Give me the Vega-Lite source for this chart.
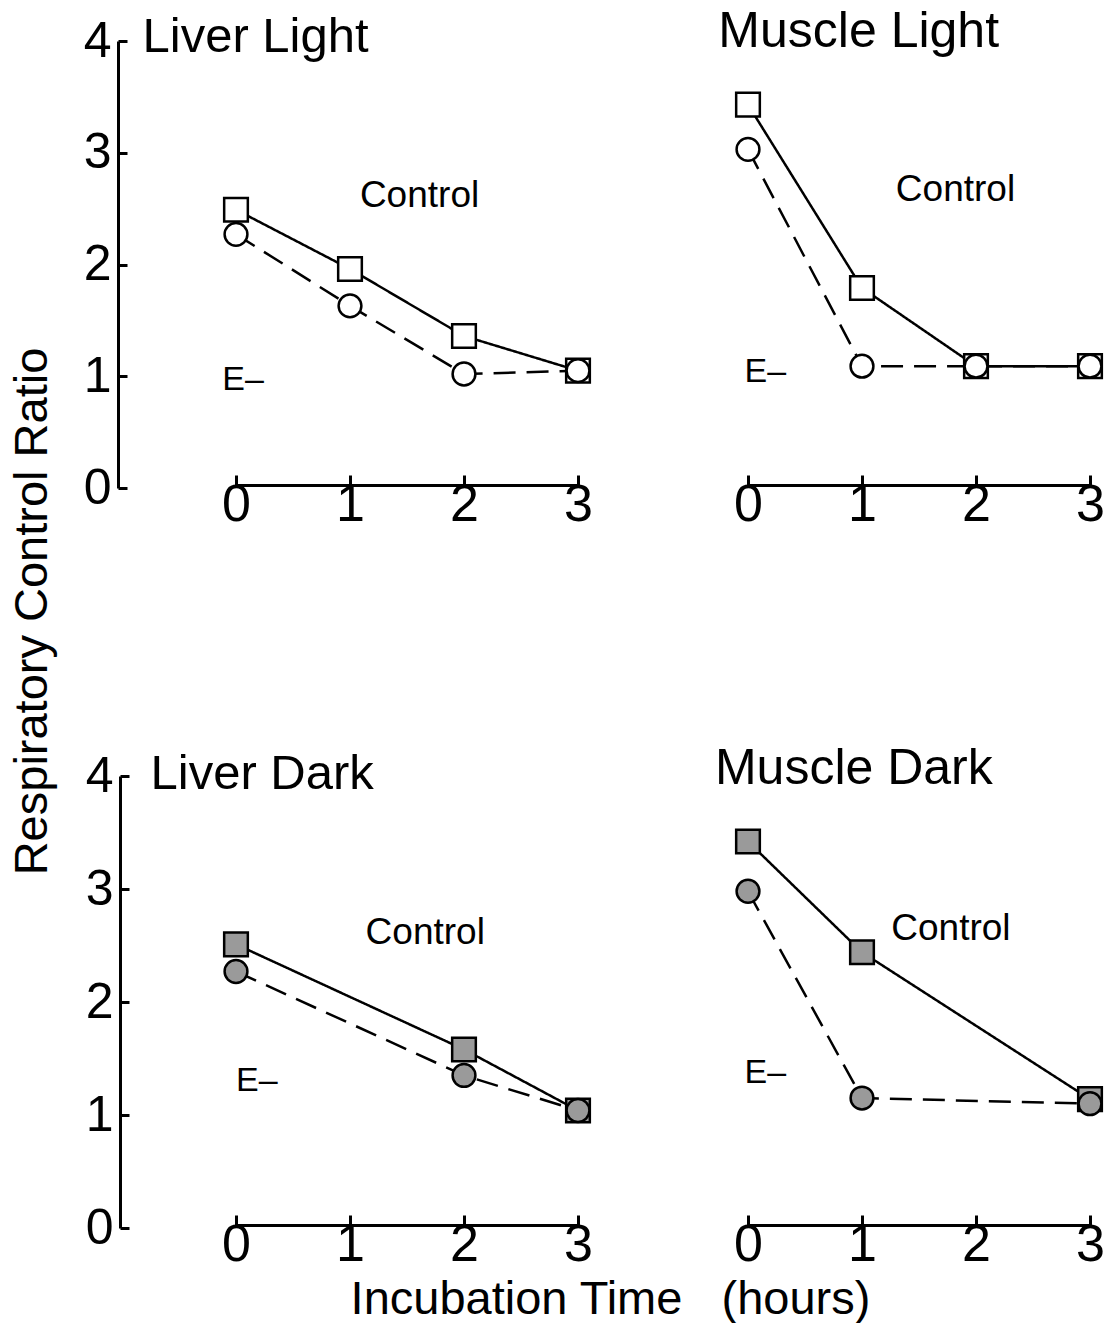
{
  "$schema": "https://vega.github.io/schema/vega-lite/v6.json",
  "padding": {"left": 8, "top": 7, "right": 5, "bottom": 5},
  "background": "white",
  "config": {
    "view": {"stroke": null},
    "font": "Liberation Sans",
    "axis": {"grid": false, "domainColor": "black", "tickColor": "black", "labelColor": "black", "titleColor": "black", "domainWidth": 3, "tickWidth": 3, "labelFont": "Liberation Sans", "titleFont": "Liberation Sans", "titleFontWeight": "normal", "labelFlush": false, "labelOverlap": false, "format": "d"}
  },
  "bounds": "flush",
  "columns": 2,
  "spacing": {"row": 288, "column": 170},
  "concat": [
    {
      "width": 342, "height": 447,
      "data": {"values": [
        {"series": "Control", "t": 0, "ratio": 2.49}, {"series": "Control", "t": 1, "ratio": 1.96}, {"series": "Control", "t": 2, "ratio": 1.36}, {"series": "Control", "t": 3, "ratio": 1.05},
        {"series": "E-", "t": 0, "ratio": 2.27}, {"series": "E-", "t": 1, "ratio": 1.63}, {"series": "E-", "t": 2, "ratio": 1.02}, {"series": "E-", "t": 3, "ratio": 1.05}
      ]},
      "layer": [
        {
          "mark": {"type": "line", "stroke": "black", "strokeWidth": 2.5},
          "encoding": {
            "x": {"field": "t", "type": "quantitative", "scale": {"domain": [0, 3], "nice": false, "zero": false}, "axis": {"values": [0, 1, 2, 3], "tickSize": -10, "labelFontSize": 52, "labelPadding": 4, "title": null, "offset": -3}},
            "y": {"field": "ratio", "type": "quantitative", "scale": {"domain": [0, 4], "nice": false}, "axis": {"values": [0, 1, 2, 3, 4], "offset": 118, "tickSize": -9, "labelFontSize": 50, "labelPadding": 16, "title": "Respiratory Control Ratio", "titleFontSize": 47, "titleAngle": 270, "titleX": -86, "titleY": 570, "titleAlign": "center", "titleBaseline": "middle", "titleAnchor": null}},
            "strokeDash": {"field": "series", "scale": {"domain": ["Control", "E-"], "range": [[1, 0], [22, 11]]}, "legend": null}
          }
        },
        {
          "mark": {"type": "point", "filled": true, "fill": "white", "stroke": "black", "strokeWidth": 2.5, "opacity": 1},
          "encoding": {
            "x": {"field": "t", "type": "quantitative"},
            "y": {"field": "ratio", "type": "quantitative"},
            "shape": {"field": "series", "scale": {"domain": ["Control", "E-"], "range": ["square", "circle"]}, "legend": null},
            "size": {"field": "series", "scale": {"domain": ["Control", "E-"], "range": [560, 520]}, "legend": null}
          }
        },
        {"data": {"values": [{}]}, "mark": {"type": "text", "fontSize": 49, "align": "left", "baseline": "middle"}, "encoding": {"x": {"datum": -0.82}, "y": {"datum": 4.04}, "text": {"value": "Liver Light"}}},
        {"data": {"values": [{}]}, "mark": {"type": "text", "fontSize": 37, "align": "center", "baseline": "middle"}, "encoding": {"x": {"datum": 1.61}, "y": {"datum": 2.61}, "text": {"value": "Control"}}},
        {"data": {"values": [{}]}, "mark": {"type": "text", "fontSize": 34, "align": "left", "baseline": "middle"}, "encoding": {"x": {"datum": -0.12}, "y": {"datum": 0.97}, "text": {"value": "E–"}}}
      ]
    },
    {
      "width": 342, "height": 447,
      "data": {"values": [
        {"series": "Control", "t": 0, "ratio": 3.43}, {"series": "Control", "t": 1, "ratio": 1.79}, {"series": "Control", "t": 2, "ratio": 1.09}, {"series": "Control", "t": 3, "ratio": 1.09},
        {"series": "E-", "t": 0, "ratio": 3.03}, {"series": "E-", "t": 1, "ratio": 1.09}, {"series": "E-", "t": 2, "ratio": 1.09}, {"series": "E-", "t": 3, "ratio": 1.09}
      ]},
      "layer": [
        {
          "mark": {"type": "line", "stroke": "black", "strokeWidth": 2.5},
          "encoding": {
            "x": {"field": "t", "type": "quantitative", "scale": {"domain": [0, 3], "nice": false, "zero": false}, "axis": {"values": [0, 1, 2, 3], "tickSize": -10, "labelFontSize": 52, "labelPadding": 4, "title": null, "offset": -3}},
            "y": {"field": "ratio", "type": "quantitative", "scale": {"domain": [0, 4], "nice": false}, "axis": null},
            "strokeDash": {"field": "series", "scale": {"domain": ["Control", "E-"], "range": [[1, 0], [22, 11]]}, "legend": null}
          }
        },
        {
          "mark": {"type": "point", "filled": true, "fill": "white", "stroke": "black", "strokeWidth": 2.5, "opacity": 1},
          "encoding": {
            "x": {"field": "t", "type": "quantitative"},
            "y": {"field": "ratio", "type": "quantitative"},
            "shape": {"field": "series", "scale": {"domain": ["Control", "E-"], "range": ["square", "circle"]}, "legend": null},
            "size": {"field": "series", "scale": {"domain": ["Control", "E-"], "range": [560, 520]}, "legend": null}
          }
        },
        {"data": {"values": [{}]}, "mark": {"type": "text", "fontSize": 50, "align": "left", "baseline": "middle"}, "encoding": {"x": {"datum": -0.26}, "y": {"datum": 4.08}, "text": {"value": "Muscle Light"}}},
        {"data": {"values": [{}]}, "mark": {"type": "text", "fontSize": 37, "align": "center", "baseline": "middle"}, "encoding": {"x": {"datum": 1.82}, "y": {"datum": 2.67}, "text": {"value": "Control"}}},
        {"data": {"values": [{}]}, "mark": {"type": "text", "fontSize": 34, "align": "left", "baseline": "middle"}, "encoding": {"x": {"datum": -0.03}, "y": {"datum": 1.04}, "text": {"value": "E–"}}}
      ]
    },
    {
      "width": 342, "height": 452,
      "data": {"values": [
        {"series": "Control", "t": 0, "ratio": 2.51}, {"series": "Control", "t": 2, "ratio": 1.58}, {"series": "Control", "t": 3, "ratio": 1.04},
        {"series": "E-", "t": 0, "ratio": 2.27}, {"series": "E-", "t": 2, "ratio": 1.35}, {"series": "E-", "t": 3, "ratio": 1.04}
      ]},
      "layer": [
        {
          "mark": {"type": "line", "stroke": "black", "strokeWidth": 2.5},
          "encoding": {
            "x": {"field": "t", "type": "quantitative", "scale": {"domain": [0, 3], "nice": false, "zero": false}, "axis": {"values": [0, 1, 2, 3], "tickSize": -10, "labelFontSize": 52, "labelPadding": 4, "offset": -3, "title": "Incubation Time\u00a0\u00a0\u00a0(hours)", "titleFontSize": 47, "titleX": 374, "titleY": 88, "titleAlign": "center", "titleBaseline": "alphabetic", "titleAnchor": null}},
            "y": {"field": "ratio", "type": "quantitative", "scale": {"domain": [0, 4], "nice": false}, "axis": {"values": [0, 1, 2, 3, 4], "offset": 116, "tickSize": -9, "labelFontSize": 50, "labelPadding": 16, "title": null}},
            "strokeDash": {"field": "series", "scale": {"domain": ["Control", "E-"], "range": [[1, 0], [22, 11]]}, "legend": null}
          }
        },
        {
          "mark": {"type": "point", "filled": true, "fill": "#9a9a9a", "stroke": "black", "strokeWidth": 2.5, "opacity": 1},
          "encoding": {
            "x": {"field": "t", "type": "quantitative"},
            "y": {"field": "ratio", "type": "quantitative"},
            "shape": {"field": "series", "scale": {"domain": ["Control", "E-"], "range": ["square", "circle"]}, "legend": null},
            "size": {"field": "series", "scale": {"domain": ["Control", "E-"], "range": [560, 520]}, "legend": null}
          }
        },
        {"data": {"values": [{}]}, "mark": {"type": "text", "fontSize": 49, "align": "left", "baseline": "middle"}, "encoding": {"x": {"datum": -0.75}, "y": {"datum": 4.02}, "text": {"value": "Liver Dark"}}},
        {"data": {"values": [{}]}, "mark": {"type": "text", "fontSize": 37, "align": "center", "baseline": "middle"}, "encoding": {"x": {"datum": 1.66}, "y": {"datum": 2.61}, "text": {"value": "Control"}}},
        {"data": {"values": [{}]}, "mark": {"type": "text", "fontSize": 34, "align": "left", "baseline": "middle"}, "encoding": {"x": {"datum": 0.0}, "y": {"datum": 1.3}, "text": {"value": "E–"}}}
      ]
    },
    {
      "width": 342, "height": 452,
      "data": {"values": [
        {"series": "Control", "t": 0, "ratio": 3.42}, {"series": "Control", "t": 1, "ratio": 2.44}, {"series": "Control", "t": 3, "ratio": 1.14},
        {"series": "E-", "t": 0, "ratio": 2.98}, {"series": "E-", "t": 1, "ratio": 1.15}, {"series": "E-", "t": 3, "ratio": 1.1}
      ]},
      "layer": [
        {
          "mark": {"type": "line", "stroke": "black", "strokeWidth": 2.5},
          "encoding": {
            "x": {"field": "t", "type": "quantitative", "scale": {"domain": [0, 3], "nice": false, "zero": false}, "axis": {"values": [0, 1, 2, 3], "tickSize": -10, "labelFontSize": 52, "labelPadding": 4, "title": null, "offset": -3}},
            "y": {"field": "ratio", "type": "quantitative", "scale": {"domain": [0, 4], "nice": false}, "axis": null},
            "strokeDash": {"field": "series", "scale": {"domain": ["Control", "E-"], "range": [[1, 0], [22, 11]]}, "legend": null}
          }
        },
        {
          "mark": {"type": "point", "filled": true, "fill": "#9a9a9a", "stroke": "black", "strokeWidth": 2.5, "opacity": 1},
          "encoding": {
            "x": {"field": "t", "type": "quantitative"},
            "y": {"field": "ratio", "type": "quantitative"},
            "shape": {"field": "series", "scale": {"domain": ["Control", "E-"], "range": ["square", "circle"]}, "legend": null},
            "size": {"field": "series", "scale": {"domain": ["Control", "E-"], "range": [560, 520]}, "legend": null}
          }
        },
        {"data": {"values": [{}]}, "mark": {"type": "text", "fontSize": 50, "align": "left", "baseline": "middle"}, "encoding": {"x": {"datum": -0.29}, "y": {"datum": 4.06}, "text": {"value": "Muscle Dark"}}},
        {"data": {"values": [{}]}, "mark": {"type": "text", "fontSize": 37, "align": "center", "baseline": "middle"}, "encoding": {"x": {"datum": 1.78}, "y": {"datum": 2.65}, "text": {"value": "Control"}}},
        {"data": {"values": [{}]}, "mark": {"type": "text", "fontSize": 34, "align": "left", "baseline": "middle"}, "encoding": {"x": {"datum": -0.03}, "y": {"datum": 1.37}, "text": {"value": "E–"}}}
      ]
    }
  ]
}
